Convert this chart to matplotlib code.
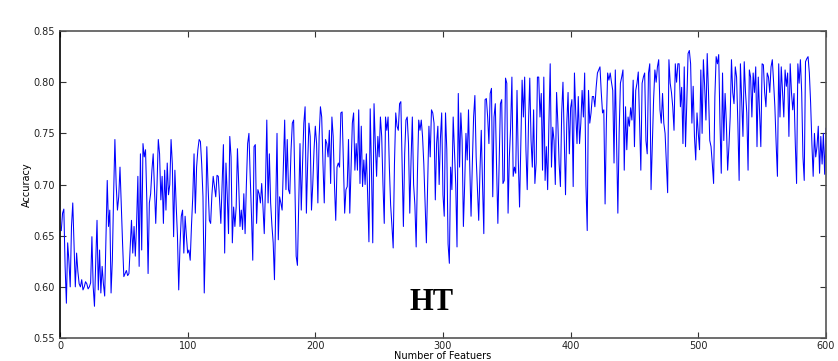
import numpy as np
import matplotlib
matplotlib.use("Agg")
import matplotlib.pyplot as plt

# accuracy per number of features in blocks of 100
acc_001_100 = [
    0.655, 0.672, 0.676, 0.620, 0.584, 0.643, 0.625, 0.600, 0.659, 0.682,
    0.640, 0.600, 0.633, 0.615, 0.603, 0.600, 0.607, 0.597, 0.600, 0.605,
    0.603, 0.598, 0.600, 0.604, 0.649, 0.600, 0.581, 0.625, 0.665, 0.597,
    0.636, 0.594, 0.620, 0.603, 0.591, 0.650, 0.704, 0.659, 0.675, 0.594,
    0.626, 0.690, 0.744, 0.700, 0.675, 0.688, 0.717, 0.680, 0.643, 0.610,
    0.613, 0.616, 0.611, 0.613, 0.640, 0.665, 0.633, 0.659, 0.630, 0.662,
    0.708, 0.620, 0.730, 0.636, 0.740, 0.727, 0.734, 0.685, 0.613, 0.682,
    0.691, 0.714, 0.730, 0.695, 0.662, 0.700, 0.744, 0.730, 0.685, 0.708,
    0.662, 0.714, 0.675, 0.721, 0.690, 0.700, 0.744, 0.720, 0.649, 0.714,
    0.680, 0.650, 0.597, 0.640, 0.669, 0.675, 0.633, 0.669, 0.650, 0.633,
]
acc_101_200 = [
    0.636, 0.626, 0.660, 0.688, 0.730, 0.672, 0.717, 0.734, 0.744, 0.742,
    0.720, 0.688, 0.594, 0.650, 0.737, 0.698, 0.665, 0.662, 0.690, 0.708,
    0.698, 0.688, 0.709, 0.708, 0.685, 0.662, 0.700, 0.739, 0.633, 0.721,
    0.690, 0.652, 0.747, 0.727, 0.643, 0.678, 0.659, 0.678, 0.735, 0.700,
    0.659, 0.675, 0.656, 0.691, 0.652, 0.700, 0.740, 0.750, 0.708, 0.670,
    0.626, 0.737, 0.739, 0.662, 0.695, 0.691, 0.682, 0.701, 0.678, 0.652,
    0.700, 0.763, 0.682, 0.730, 0.682, 0.660, 0.643, 0.607, 0.680, 0.750,
    0.646, 0.688, 0.682, 0.675, 0.720, 0.763, 0.695, 0.744, 0.695, 0.691,
    0.734, 0.760, 0.763, 0.700, 0.630, 0.621, 0.680, 0.740, 0.675, 0.720,
    0.760, 0.776, 0.672, 0.720, 0.760, 0.747, 0.675, 0.700, 0.734, 0.757,
]
acc_201_300 = [
    0.740, 0.682, 0.747, 0.776, 0.766, 0.720, 0.682, 0.744, 0.740, 0.727,
    0.753, 0.701, 0.766, 0.747, 0.700, 0.665, 0.717, 0.721, 0.717, 0.770,
    0.771, 0.720, 0.672, 0.695, 0.698, 0.744, 0.672, 0.717, 0.760, 0.770,
    0.714, 0.740, 0.714, 0.773, 0.701, 0.757, 0.698, 0.724, 0.700, 0.730,
    0.690, 0.644, 0.774, 0.714, 0.643, 0.779, 0.740, 0.708, 0.747, 0.727,
    0.766, 0.747, 0.700, 0.662, 0.766, 0.753, 0.766, 0.717, 0.680, 0.660,
    0.638, 0.720, 0.770, 0.757, 0.753, 0.779, 0.781, 0.720, 0.659, 0.730,
    0.763, 0.766, 0.740, 0.672, 0.724, 0.766, 0.700, 0.680, 0.639, 0.711,
    0.763, 0.753, 0.763, 0.747, 0.720, 0.682, 0.643, 0.700, 0.757, 0.727,
    0.773, 0.770, 0.760, 0.685, 0.740, 0.757, 0.700, 0.745, 0.770, 0.690,
]
acc_301_400 = [
    0.669, 0.770, 0.734, 0.642, 0.623, 0.717, 0.695, 0.766, 0.734, 0.700,
    0.639, 0.789, 0.717, 0.770, 0.743, 0.659, 0.700, 0.750, 0.724, 0.773,
    0.717, 0.669, 0.720, 0.766, 0.787, 0.727, 0.695, 0.665, 0.714, 0.753,
    0.700, 0.652, 0.783, 0.784, 0.766, 0.740, 0.789, 0.794, 0.688, 0.766,
    0.779, 0.717, 0.662, 0.720, 0.779, 0.783, 0.701, 0.704, 0.804, 0.799,
    0.672, 0.727, 0.756, 0.805, 0.708, 0.717, 0.711, 0.792, 0.724, 0.678,
    0.740, 0.802, 0.766, 0.805, 0.734, 0.695, 0.760, 0.804, 0.743, 0.717,
    0.773, 0.701, 0.721, 0.805, 0.805, 0.766, 0.789, 0.714, 0.805, 0.704,
    0.737, 0.695, 0.760, 0.818, 0.717, 0.756, 0.743, 0.700, 0.790, 0.760,
    0.720, 0.698, 0.770, 0.800, 0.745, 0.690, 0.760, 0.790, 0.730, 0.775,
]
acc_401_500 = [
    0.783, 0.698, 0.809, 0.770, 0.740, 0.786, 0.740, 0.760, 0.792, 0.766,
    0.809, 0.700, 0.655, 0.792, 0.760, 0.770, 0.786, 0.786, 0.776, 0.795,
    0.809, 0.812, 0.815, 0.790, 0.770, 0.773, 0.681, 0.760, 0.809, 0.802,
    0.809, 0.800, 0.792, 0.721, 0.812, 0.740, 0.672, 0.750, 0.799, 0.805,
    0.812, 0.714, 0.776, 0.734, 0.766, 0.757, 0.775, 0.763, 0.802, 0.737,
    0.792, 0.799, 0.810, 0.760, 0.714, 0.799, 0.805, 0.809, 0.743, 0.730,
    0.809, 0.818, 0.695, 0.740, 0.783, 0.812, 0.800, 0.815, 0.822, 0.773,
    0.760, 0.789, 0.760, 0.750, 0.720, 0.692, 0.822, 0.799, 0.790, 0.776,
    0.753, 0.818, 0.800, 0.818, 0.818, 0.776, 0.795, 0.740, 0.815, 0.737,
    0.780, 0.828, 0.831, 0.818, 0.760, 0.796, 0.747, 0.724, 0.770, 0.750,
]
acc_501_600 = [
    0.734, 0.812, 0.750, 0.822, 0.796, 0.763, 0.828, 0.790, 0.743, 0.737,
    0.720, 0.701, 0.786, 0.825, 0.818, 0.827, 0.760, 0.711, 0.809, 0.743,
    0.789, 0.760, 0.714, 0.737, 0.766, 0.822, 0.790, 0.779, 0.815, 0.805,
    0.760, 0.704, 0.818, 0.783, 0.747, 0.820, 0.790, 0.770, 0.714, 0.812,
    0.805, 0.766, 0.809, 0.790, 0.815, 0.737, 0.805, 0.770, 0.737, 0.818,
    0.817, 0.790, 0.776, 0.809, 0.805, 0.790, 0.815, 0.822, 0.800, 0.776,
    0.740, 0.708, 0.818, 0.766, 0.815, 0.790, 0.766, 0.812, 0.796, 0.809,
    0.747, 0.818, 0.790, 0.773, 0.789, 0.740, 0.701, 0.818, 0.799, 0.822,
    0.790, 0.727, 0.704, 0.820, 0.823, 0.825, 0.809, 0.780, 0.740, 0.708,
    0.750, 0.727, 0.737, 0.757, 0.711, 0.747, 0.720, 0.750, 0.710, 0.755,
]

accuracy = (acc_001_100 + acc_101_200 + acc_201_300
            + acc_301_400 + acc_401_500 + acc_501_600)
n_features = np.arange(1, len(accuracy) + 1)

fig = plt.figure(figsize=(8.38, 3.61), dpi=100)
ax = fig.add_axes([0.0716, 0.0637, 0.914, 0.8503])

ax.plot(n_features, accuracy, '-', color='b', linewidth=0.75)

ax.set_xlim(0, 600)
ax.set_ylim(0.55, 0.85)
ax.set_xticks(range(0, 601, 100))
ax.set_yticks(np.arange(0.55, 0.851, 0.05))
ax.yaxis.set_major_formatter(matplotlib.ticker.FormatStrFormatter('%.2f'))
ax.tick_params(direction='in', top=True, right=True, labelsize=7, length=4,
               colors='#333333', labelcolor='#222222')
ax.tick_params(axis='x', pad=2)
for s in ax.spines.values():
    s.set_color('#555555')
    s.set_linewidth(1.2)
ax.spines['left'].set_color('black')

ax.set_xlabel("Number of Featuers", fontsize=7, labelpad=0)
ax.set_ylabel("Accuracy", fontsize=7, labelpad=1)

ax.text(291, 0.585, 'HT', fontsize=22, fontweight='bold',
        family='Liberation Serif', ha='center', va='center')

plt.savefig('out.png', dpi=100)
